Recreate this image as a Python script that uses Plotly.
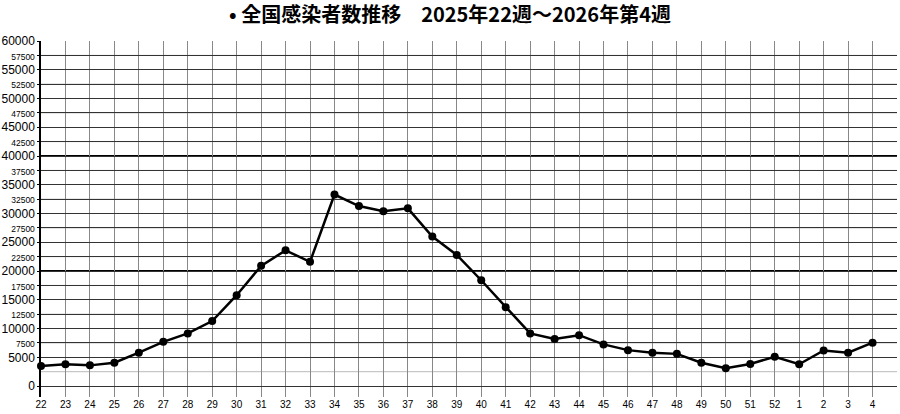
import plotly.graph_objects as go

weeks = ["22", "23", "24", "25", "26", "27", "28", "29", "30", "31", "32", "33", "34",
         "35", "36", "37", "38", "39", "40", "41", "42", "43", "44", "45", "46", "47",
         "48", "49", "50", "51", "52", "1", "2", "3", "4"]
cases = [3500, 3800, 3600, 4050, 5800, 7700, 9150, 11300, 15800, 20900, 23600, 21600,
         33300, 31300, 30400, 30900, 26000, 22800, 18400, 13700, 9150, 8200, 8850,
         7250, 6250, 5800, 5600, 4050, 3100, 3850, 5100, 3800, 6200, 5800, 7550]

major_vals = list(range(0, 60001, 5000))
minor_vals = list(range(7500, 60000, 5000))

tickvals = []
ticktext = []
for v in major_vals:
    tickvals.append(v)
    ticktext.append(str(v))
for v in minor_vals:
    tickvals.append(v)
    ticktext.append('<span style="font-size:8.5px">%d</span>' % v)

xi = list(range(len(weeks)))

fig = go.Figure()
fig.add_trace(go.Scatter(
    x=xi, y=cases, mode="lines+markers",
    line=dict(color="black", width=2.5),
    marker=dict(color="black", size=8),
    cliponaxis=False, showlegend=False,
))

# lighter grid at 2500 offsets
for v in range(2500, 60000, 5000):
    fig.add_shape(type="line", xref="paper", x0=0, x1=1, yref="y", y0=v, y1=v,
                  line=dict(color="#bbb", width=1), layer="below")

for v in (20000, 40000):
    fig.add_shape(type="line", xref="paper", x0=0, x1=1, yref="y", y0=v, y1=v,
                  line=dict(color="black", width=2), layer="below")

fig.update_layout(
    width=900, height=414,
    margin=dict(l=41, r=3, t=41, b=17),
    paper_bgcolor="white", plot_bgcolor="white",
    title=dict(text="• 全国感染者数推移　2025年22週～2026年第4週",
               x=0.5, xanchor="center", y=1 - 15 / 414, yanchor="middle",
               font=dict(family="Noto Sans CJK JP", size=20, color="black", weight="bold")),
    font=dict(family="Liberation Sans", color="black"),
    xaxis=dict(
        range=[0, 35], tickmode="array", tickvals=xi, ticktext=weeks,
        tickfont=dict(size=10, color="black"),
        showgrid=True, gridcolor="#888", gridwidth=1,
        showline=False, zeroline=False, ticks="", automargin=False,
    ),
    yaxis=dict(
        range=[-1900, 60000], tickmode="array", tickvals=tickvals, ticktext=ticktext,
        tickfont=dict(size=12, color="black"),
        showgrid=True, gridcolor="#333", gridwidth=1, zeroline=False,
        showline=True, linecolor="black", linewidth=1.5,
        ticks="outside", ticklen=2, tickcolor="black", automargin=False,
    ),
)

fig.write_html("out.html", config={"displayModeBar": False},
               post_script="document.body.style.margin='0';")
